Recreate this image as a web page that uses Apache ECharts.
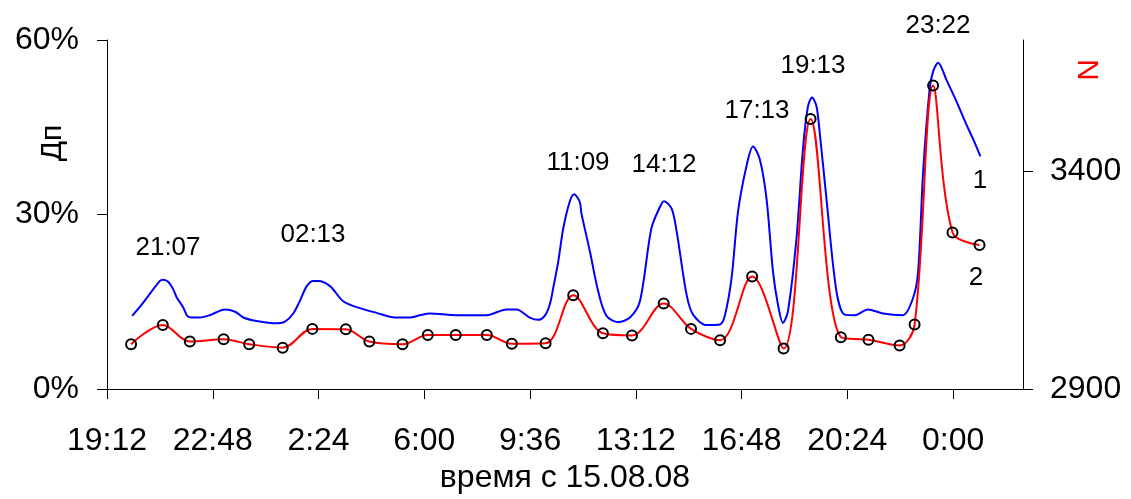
<!DOCTYPE html>
<html>
<head>
<meta charset="utf-8">
<script src="https://cdn.jsdelivr.net/npm/echarts@6/dist/echarts.min.js"></script>
<style>
  html, body { margin: 0; padding: 0; background: #fff; }
  #grafico { width: 1131px; height: 499px; }
</style>
</head>
<body>
<div id="grafico"></div>
<script>
// time in hours from 14.08.08 00:00
const xTicks = [19.2, 22.8, 26.4, 30, 33.6, 37.2, 40.8, 44.4, 48];
const leftTicks = [0, 30, 60];
const rightTicks = [2900, 3400];

// curve 1 (blue), Дп in %
const horasDp = [
  20.06, 20.38, 21.00, 21.12, 21.29, 21.46, 21.57, 21.80, 21.93, 22.08,
  22.36, 22.70, 23.22, 23.56, 23.84, 24.29, 24.97, 25.26, 25.54, 25.77,
  26.00, 26.22, 26.39, 26.79, 27.24, 27.75, 28.38, 29.00, 29.51, 29.85,
  30.19, 31.10, 32.12, 32.80, 33.14, 33.59, 33.88, 34.10, 34.27, 34.39,
  34.56, 34.73, 34.95, 35.10, 35.29, 35.35, 35.64, 35.92, 36.20, 36.60,
  37.00, 37.34, 37.73, 38.02, 38.16, 38.42, 38.59, 38.93, 39.15, 39.61,
  40.06, 40.23, 40.46, 40.68, 40.97, 41.19, 41.42, 41.65, 41.87, 42.04,
  42.21, 42.38, 42.67, 42.89, 43.06, 43.20, 43.35, 43.46, 43.69, 44.03,
  44.31, 44.65, 45.10, 45.61, 46.29, 46.64, 46.81, 46.98, 47.20, 47.32,
  47.49, 47.77, 48.11, 48.45, 48.68, 48.93
];
const valoresDp = [
  12.6, 14.5, 18.6, 18.8, 18.4, 17.1, 15.8, 14.0, 12.6, 12.3,
  12.3, 12.7, 13.7, 13.3, 12.3, 11.7, 11.3, 11.6, 13.0, 15.2,
  17.7, 18.6, 18.6, 17.7, 15.1, 14.0, 13.1, 12.3, 12.3, 12.7,
  13.0, 12.7, 12.7, 13.7, 13.7, 12.3, 11.9, 12.6, 14.5, 17.4,
  21.9, 27.6, 32.2, 33.5, 32.2, 30.2, 23.6, 16.8, 12.6, 11.5,
  12.3, 15.1, 27.6, 31.3, 32.3, 31.0, 27.1, 16.2, 12.8, 11.0,
  11.1, 12.6, 19.1, 30.5, 38.4, 41.7, 39.5, 32.7, 20.2, 14.5,
  11.4, 13.4, 25.9, 41.3, 48.6, 50.1, 48.6, 44.1, 32.7, 16.8,
  12.8, 12.7, 13.7, 13.0, 12.7, 15.7, 20.2, 37.3, 51.5, 54.6,
  56.1, 53.2, 49.5, 45.5, 43.0, 40.0
];

// curve 2 (red), N
const horasN = [
  20.02, 21.10, 22.02, 23.17, 24.04, 25.18, 26.19, 27.33, 28.13, 29.26,
  30.12, 31.07, 32.13, 32.98, 34.13, 35.07, 36.08, 37.07, 38.15, 39.08,
  40.07, 41.16, 42.23, 43.15, 44.18, 45.12, 46.18, 46.69, 47.32, 47.98,
  48.90
];
const valoresN = [
  3003, 3047, 3009, 3014, 3003, 2995, 3038, 3037, 3009, 3003,
  3024, 3024, 3024, 3004, 3005, 3115, 3028, 3023, 3096, 3038,
  3012, 3158, 2993, 3519, 3019, 3013, 3000, 3048, 3596, 3259,
  3230
];

const fonte = '"Liberation Sans", Arial, sans-serif';

const formataHora = (v) => {
  const totalMin = Math.round(v * 60);
  const h = Math.floor(totalMin / 60) % 24;
  const m = totalMin % 60;
  return h + ':' + String(m).padStart(2, '0');
};

const texto = (t, x, y, extra) => Object.assign({
  type: 'text',
  x: x,
  y: y,
  style: {
    text: t,
    font: '26px ' + fonte,
    fill: '#000',
    textAlign: 'center',
    textVerticalAlign: 'middle'
  }
}, extra || {});

const chart = echarts.init(document.getElementById('grafico'));

const option = {
  animation: false,
  backgroundColor: '#fff',
  grid: { left: 107, right: 108, top: 40, bottom: 107 },
  xAxis: {
    type: 'value',
    min: 19.2,
    max: 50.38,
    interval: 3.6,
    splitLine: { show: false },
    axisLine: { show: true, onZero: false, lineStyle: { color: '#000', width: 1 } },
    axisTick: { show: true, length: 10, lineStyle: { color: '#000' }, customValues: xTicks },
    axisLabel: {
      customValues: xTicks,
      formatter: formataHora,
      color: '#000',
      fontSize: 32,
      fontFamily: fonte,
      margin: 36
    },
    name: 'время с 15.08.08',
    nameLocation: 'middle',
    nameGap: 72,
    nameTextStyle: { color: '#000', fontSize: 32, fontFamily: fonte }
  },
  yAxis: [
    {
      type: 'value',
      min: 0,
      max: 60,
      interval: 30,
      position: 'left',
      splitLine: { show: false },
      axisLine: { show: true, lineStyle: { color: '#000', width: 1 } },
      axisTick: { show: true, length: 10, lineStyle: { color: '#000' }, customValues: leftTicks },
      axisLabel: {
        customValues: leftTicks,
        formatter: '{value}%',
        color: '#000',
        fontSize: 32,
        fontFamily: fonte,
        margin: 28
      }
    },
    {
      type: 'value',
      min: 2900,
      max: 3700,
      interval: 500,
      position: 'right',
      splitLine: { show: false },
      axisLine: { show: true, lineStyle: { color: '#000', width: 1 } },
      axisTick: { show: true, length: 10, lineStyle: { color: '#000' }, customValues: rightTicks },
      axisLabel: {
        customValues: rightTicks,
        formatter: (v) => String(v),
        color: '#000',
        fontSize: 32,
        fontFamily: fonte,
        margin: 27
      }
    }
  ],
  series: [
    {
      name: '1',
      type: 'line',
      yAxisIndex: 0,
      data: horasDp.map((h, i) => [h, valoresDp[i]]),
      smooth: 0.3,
      showSymbol: false,
      symbol: 'none',
      lineStyle: { color: '#0000ff', width: 2 }
    },
    {
      name: '2',
      type: 'line',
      yAxisIndex: 1,
      data: horasN.map((h, i) => [h, valoresN[i]]),
      smooth: 0.35,
      symbol: 'circle',
      symbolSize: 10,
      itemStyle: { color: 'rgba(255,255,255,0)', borderColor: '#000', borderWidth: 2 },
      lineStyle: { color: '#ff0000', width: 2 },
      z: 3
    }
  ],
  graphic: [
    texto('21:07', 168, 248),
    texto('02:13', 313, 235),
    texto('11:09', 578, 163),
    texto('14:12', 664, 165),
    texto('17:13', 757, 111),
    texto('19:13', 813, 66),
    texto('23:22', 938, 26),
    texto('1', 980, 181),
    texto('2', 976, 278),
    {
      type: 'text',
      x: 53,
      y: 143,
      rotation: Math.PI / 2,
      style: {
        text: 'Дп',
        font: '30px ' + fonte,
        fill: '#000',
        textAlign: 'center',
        textVerticalAlign: 'middle'
      }
    },
    {
      type: 'text',
      x: 1090,
      y: 70,
      rotation: Math.PI / 2,
      style: {
        text: 'N',
        font: '30px ' + fonte,
        fill: '#ff0000',
        textAlign: 'center',
        textVerticalAlign: 'middle'
      }
    }
  ]
};

chart.setOption(option);
</script>
</body>
</html>
